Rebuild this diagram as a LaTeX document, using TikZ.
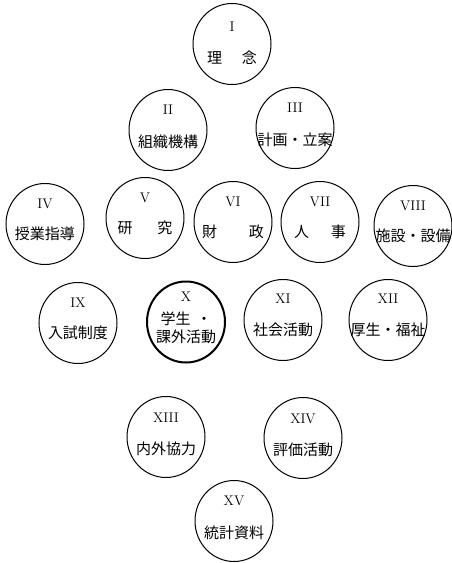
\documentclass[tikz,border=0pt]{standalone}
\usepackage{fontspec}
\usetikzlibrary{shapes.geometric}
\newfontfamily\jp{Noto Sans CJK JP}
\begin{document}
\begin{tikzpicture}[x=1pt,y=1pt,
  circ/.style={ellipse,draw=black,line width=1pt,minimum width=78pt,minimum height=81pt,inner sep=0pt},
  bold/.style={line width=2pt},
  num/.style={inner sep=0pt,font=\fontsize{14}{14}\selectfont},
  lbl/.style={inner sep=0pt,font=\jp\fontsize{15}{18}\selectfont,align=center}]
\useasboundingbox (0,0) rectangle (452,-563);
% circles
\node[circ] (c1) at (232,-44) {};
\node[circ] (c2) at (168,-130) {};
\node[circ] (c3) at (295,-128) {};
\node[circ] (c4) at (45,-224) {};
\node[circ] (c5) at (145,-218) {};
\node[circ] (c6) at (233,-222) {};
\node[circ] (c7) at (320,-222) {};
\node[circ] (c8) at (413,-226) {};
\node[circ] (c9) at (78,-323) {};
\node[circ,bold] (c10) at (186,-322) {};
\node[circ] (c11) at (283,-320) {};
\node[circ] (c12) at (388,-320) {};
\node[circ] (c13) at (166,-437) {};
\node[circ] (c14) at (303,-438) {};
\node[circ] (c15) at (234,-521) {};
% numerals
\node[num] (n1) at ([yshift=17]c1) {I};
\node[num] (n2) at ([yshift=20]c2) {II};
\node[num] (n3) at ([yshift=20]c3) {III};
\node[num] (n4) at ([yshift=20]c4) {IV};
\node[num] (n5) at ([yshift=20]c5) {V};
\node[num] (n6) at ([yshift=20]c6) {VI};
\node[num] (n7) at ([yshift=20]c7) {VII};
\node[num] (n8) at ([yshift=20]c8) {VIII};
\node[num] (n9) at ([yshift=20]c9) {IX};
\node[num] (n10) at ([yshift=25]c10) {X};
\node[num] (n11) at ([yshift=21]c11) {XI};
\node[num] (n12) at ([yshift=21]c12) {XII};
\node[num] (n13) at ([yshift=19]c13) {XIII};
\node[num] (n14) at ([yshift=19]c14) {XIV};
\node[num] (n15) at ([yshift=20]c15) {XV};
% labels
\node[lbl] (t1) at ([yshift=-14]c1) {理\hspace{20pt}念};
\node[lbl] (t2) at ([yshift=-12]c2) {組織機構};
\node[lbl] (t3) at ([yshift=-12]c3) {計画・立案};
\node[lbl] (t4) at ([yshift=-10]c4) {授業指導};
\node[lbl] (t5) at ([yshift=-10]c5) {研\hspace{25pt}究};
\node[lbl] (t6) at ([yshift=-10]c6) {財\hspace{32pt}政};
\node[lbl] (t7) at ([yshift=-10]c7) {人\hspace{22pt}事};
\node[lbl] (t8) at ([yshift=-10]c8) {施設・設備};
\node[lbl] (t9) at ([yshift=-10]c9) {入試制度};
\node[lbl] (t10) at ([yshift=-6]c10) {学生\hspace{6pt}・\\課外活動};
\node[lbl] (t11) at ([yshift=-10]c11) {社会活動};
\node[lbl] (t12) at ([yshift=-10]c12) {厚生・福祉};
\node[lbl] (t13) at ([yshift=-12]c13) {内外協力};
\node[lbl] (t14) at ([yshift=-12]c14) {評価活動};
\node[lbl] (t15) at ([yshift=-12]c15) {統計資料};
\end{tikzpicture}
\end{document}
